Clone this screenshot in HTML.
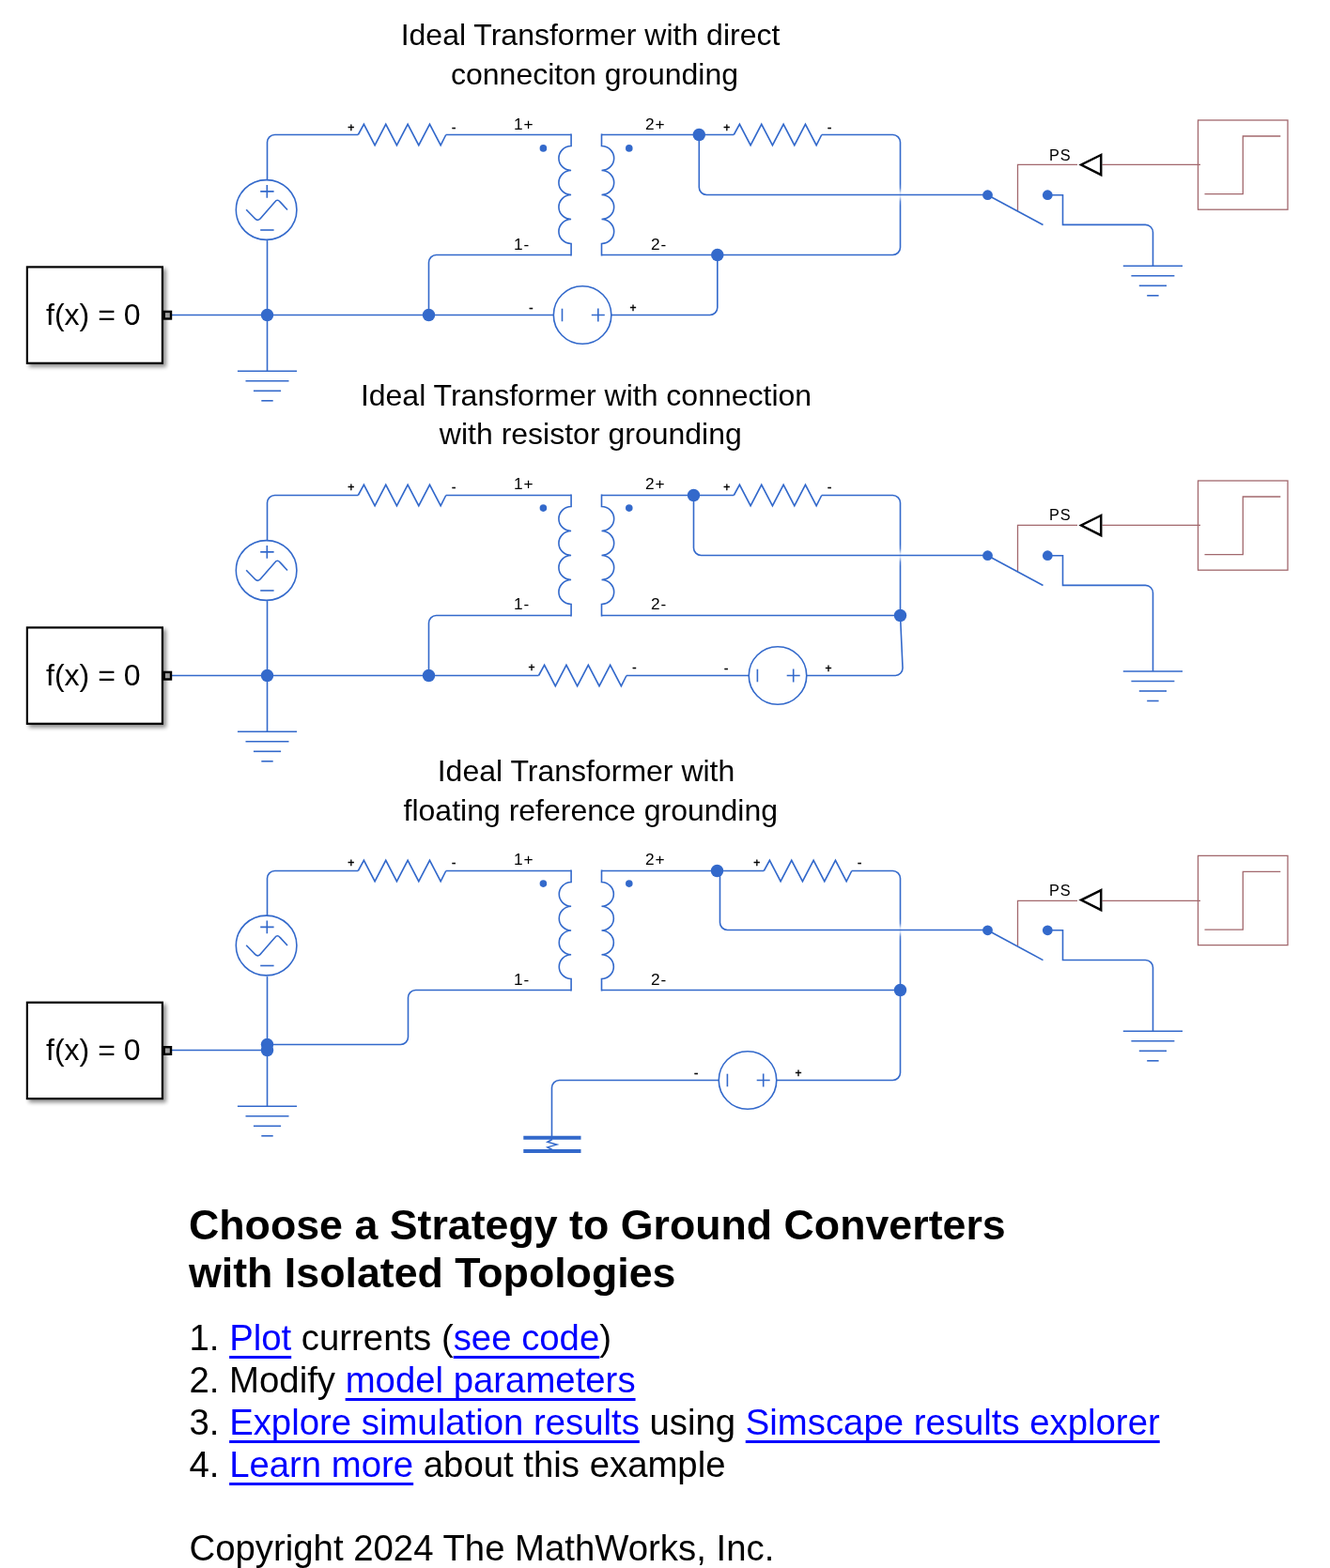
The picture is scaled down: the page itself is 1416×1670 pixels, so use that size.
<!DOCTYPE html>
<html lang="en">
<head>
<meta charset="utf-8">
<title>Choose a Strategy to Ground Converters with Isolated Topologies</title>
<style>
html,body{margin:0;padding:0;background:#fff}
body{width:1416px;height:1670px;position:relative;overflow:hidden;font-family:"Liberation Sans",sans-serif;color:#000}
svg{position:absolute;left:0;top:0;display:block}
svg text{font-family:"Liberation Sans",sans-serif}
svg,.doc{will-change:transform}
.doc{position:absolute;left:0;top:0;width:1416px;height:1670px}
.doc h1,.doc p,.doc li{position:absolute;margin:0;padding:0;white-space:nowrap;font-weight:normal}
.doc ol{list-style:none;margin:0;padding:0}
.doc h1{left:201px;font-size:44.72px;line-height:50px;font-weight:bold}
.doc li,.doc p{left:201.5px;font-size:38.33px;line-height:44px}
.doc a{color:#0000ff;text-decoration:underline;text-decoration-thickness:3.4px;text-underline-offset:6.3px;text-decoration-skip-ink:none}
</style>
</head>
<body>
<svg width="1416" height="1670" viewBox="0 0 1416 1670">
<defs>
<filter id="sh" x="-10%" y="-10%" width="130%" height="130%"><feGaussianBlur in="SourceAlpha" stdDeviation="2.1"/><feOffset dx="2.6" dy="2.6"/><feComponentTransfer><feFuncA type="linear" slope="0.45"/></feComponentTransfer></filter>
<linearGradient id="xg" x1="0" y1="0" x2="0" y2="1"><stop offset="0" stop-color="#fff" stop-opacity="0"/><stop offset="0.2" stop-color="#fff" stop-opacity="0.15"/><stop offset="0.42" stop-color="#fff" stop-opacity="0.85"/><stop offset="0.58" stop-color="#fff" stop-opacity="0.85"/><stop offset="0.8" stop-color="#fff" stop-opacity="0.15"/><stop offset="1" stop-color="#fff" stop-opacity="0"/></linearGradient>
</defs>
<text x="628.5" y="48.1" font-size="32" text-anchor="middle" font-weight="normal" fill="#000">Ideal Transformer with direct</text>
<text x="633" y="90.3" font-size="32" text-anchor="middle" font-weight="normal" fill="#000">conneciton grounding</text>
<path d="M284.5,191.5 L284.5,151.5 A8,8 0 0 1 292.5,143.5 L381.3,143.5" fill="none" stroke="#3369cb" stroke-width="1.6" />
<path d="M381.3,143.5 L387.4,132.3 L399.08,154.7 L410.76,132.3 L422.44,154.7 L434.12,132.3 L445.8,154.7 L457.48,132.3 L469.16,154.7 L474.8,143.5" fill="none" stroke="#3369cb" stroke-width="1.6" stroke-linejoin="miter" stroke-miterlimit="10"/>
<text x="373.8" y="139.9" font-size="12" text-anchor="middle" font-weight="normal" fill="#000" stroke="#000" stroke-width="0.45">+</text>
<text x="483.2" y="139.6" font-size="13" text-anchor="middle" font-weight="normal" fill="#000" stroke="#000" stroke-width="0.45">-</text>
<path d="M474.8,143.5 H608.1" fill="none" stroke="#3369cb" stroke-width="1.6" />
<ellipse cx="283.6" cy="223.5" rx="32.3" ry="31.9" fill="#fff" stroke="#3369cb" stroke-width="1.6"/>
<path d="M277.2,203.9 H291.6 M284.3,196.9 V210.8" fill="none" stroke="#3369cb" stroke-width="1.6" />
<path d="M277.2,245 H291.6" fill="none" stroke="#3369cb" stroke-width="1.6" />
<path d="M262.2,223.2 L270.7,232 Q274.5,236.8 278.1,231.8 L292.7,215 Q295.3,211.6 298.1,214.9 L306,223.5" fill="none" stroke="#3369cb" stroke-width="1.6" stroke-linejoin="round"/>
<path d="M284.5,256.1 V395.3" fill="none" stroke="#3369cb" stroke-width="1.6" />
<path d="M252.9,395.3 H316.1" fill="none" stroke="#3369cb" stroke-width="1.6" />
<path d="M261.5,405.8 H307.5" fill="none" stroke="#3369cb" stroke-width="1.6" />
<path d="M269.9,416.3 H299.1" fill="none" stroke="#3369cb" stroke-width="1.6" />
<path d="M278.3,426.8 H290.7" fill="none" stroke="#3369cb" stroke-width="1.6" />
<path d="M183,335.5 H589.6" fill="none" stroke="#3369cb" stroke-width="1.6" />
<path d="M608.1,271.5 L464.5,271.5 A8,8 0 0 0 456.5,279.5 L456.5,335.5" fill="none" stroke="#3369cb" stroke-width="1.6" />
<path d="M608.1,142.5 V155.5 A13.2,13 0 0 0 608.1,181.5 A13.2,13 0 0 0 608.1,207.5 A13.2,13 0 0 0 608.1,233.5 A13.2,13 0 0 0 608.1,259.5 V272.5" fill="none" stroke="#3369cb" stroke-width="1.6" stroke-linejoin="miter"/>
<path d="M640.5,142.5 V155.5 A13.2,13 0 0 1 640.5,181.5 A13.2,13 0 0 1 640.5,207.5 A13.2,13 0 0 1 640.5,233.5 A13.2,13 0 0 1 640.5,259.5 V272.5" fill="none" stroke="#3369cb" stroke-width="1.6" stroke-linejoin="miter"/>
<circle cx="578.4" cy="157.9" r="3.8" fill="#3369cb"/>
<circle cx="669.8" cy="157.9" r="3.8" fill="#3369cb"/>
<text x="547" y="137.8" font-size="17.3" text-anchor="start" font-weight="normal" fill="#000" letter-spacing="0.8">1+</text>
<text x="547" y="265.8" font-size="17.3" text-anchor="start" font-weight="normal" fill="#000" letter-spacing="0.8">1-</text>
<text x="687" y="137.8" font-size="17.3" text-anchor="start" font-weight="normal" fill="#000" letter-spacing="0.8">2+</text>
<text x="693" y="265.8" font-size="17.3" text-anchor="start" font-weight="normal" fill="#000" letter-spacing="0.8">2-</text>
<path d="M640.5,143.5 H781.3" fill="none" stroke="#3369cb" stroke-width="1.6" />
<path d="M781.3,143.5 L787.4,132.3 L799.08,154.7 L810.76,132.3 L822.44,154.7 L834.12,132.3 L845.8,154.7 L857.48,132.3 L869.16,154.7 L874.8,143.5" fill="none" stroke="#3369cb" stroke-width="1.6" stroke-linejoin="miter" stroke-miterlimit="10"/>
<text x="773.8" y="139.9" font-size="12" text-anchor="middle" font-weight="normal" fill="#000" stroke="#000" stroke-width="0.45">+</text>
<text x="883.2" y="139.6" font-size="13" text-anchor="middle" font-weight="normal" fill="#000" stroke="#000" stroke-width="0.45">-</text>
<path d="M874.8,143.5 L950.5,143.5 A8,8 0 0 1 958.5,151.5 L958.5,263.5 A8,8 0 0 1 950.5,271.5 L640.5,271.5" fill="none" stroke="#3369cb" stroke-width="1.6" />
<rect x="956" y="195.5" width="5" height="24" fill="url(#xg)"/>
<path d="M744.3,143.5 L744.3,199.5 A8,8 0 0 0 752.3,207.5 L1051.5,207.5" fill="none" stroke="#3369cb" stroke-width="1.6" />
<path d="M650.6,335.5 L755.8,335.5 A8,8 0 0 0 763.8,327.5 L763.8,271.5" fill="none" stroke="#3369cb" stroke-width="1.6" />
<circle cx="620.1" cy="335.5" r="30.75" fill="#fff" stroke="#3369cb" stroke-width="1.6"/>
<path d="M598.5,328.7 V342.3" fill="none" stroke="#3369cb" stroke-width="1.6" />
<path d="M629.8,335.5 H643.8 M636.8,328.5 V342.5" fill="none" stroke="#3369cb" stroke-width="1.6" />
<text x="565.3" y="332.3" font-size="13" text-anchor="middle" font-weight="normal" fill="#000" stroke="#000" stroke-width="0.45">-</text>
<text x="674" y="331.6" font-size="12" text-anchor="middle" font-weight="normal" fill="#000" stroke="#000" stroke-width="0.45">+</text>
<circle cx="284.5" cy="335.5" r="6.75" fill="#3369cb"/>
<circle cx="456.5" cy="335.5" r="6.75" fill="#3369cb"/>
<circle cx="744.3" cy="143.5" r="6.75" fill="#3369cb"/>
<circle cx="763.8" cy="271.5" r="6.75" fill="#3369cb"/>
<rect x="28.9" y="284.4" width="144" height="102.4" fill="#fff" stroke="#000" stroke-width="2.2" filter="url(#sh)"/>
<rect x="28.9" y="284.4" width="144" height="102.4" fill="#fff" stroke="#000" stroke-width="2.2"/>
<rect x="174.7" y="331.9" width="7.3" height="7.6" fill="#a0a0a0" stroke="#000" stroke-width="2.4"/>
<text x="99.3" y="346.1" font-size="32" text-anchor="middle" font-weight="normal" fill="#000">f(x) = 0</text>
<rect x="1275.5" y="128" width="95.5" height="95.2" fill="#fff" stroke="#a2686d" stroke-width="1.3"/>
<path d="M1282.5,206.7 H1323.3 V145 H1363.3" fill="none" stroke="#a2686d" stroke-width="1.3" />
<path d="M1173.5,175.3 H1278" fill="none" stroke="#a2686d" stroke-width="1.3" />
<path d="M1172.2,165 L1151.1,175.5 L1172.2,186.1 Z" fill="#fff" stroke="#000" stroke-width="2.5" stroke-linejoin="miter"/>
<path d="M1147,175.3 H1083.5 V224.4" fill="none" stroke="#a2686d" stroke-width="1.3" />
<text x="1117" y="171" font-size="16.3" text-anchor="start" font-weight="normal" fill="#000" letter-spacing="1">PS</text>
<path d="M1051.5,207.7 L1110.5,239.5" fill="none" stroke="#3369cb" stroke-width="1.6" />
<circle cx="1051.5" cy="207.7" r="5.4" fill="#3369cb"/>
<circle cx="1115.3" cy="207.7" r="5.4" fill="#3369cb"/>
<path d="M1115.3,207.7 L1131.5,207.7 L1131.5,239.4 L1219.5,239.4 A8,8 0 0 1 1227.5,247.4 L1227.5,283.3" fill="none" stroke="#3369cb" stroke-width="1.6" />
<path d="M1195.8,283.3 H1259" fill="none" stroke="#3369cb" stroke-width="1.6" />
<path d="M1204.4,293.8 H1250.4" fill="none" stroke="#3369cb" stroke-width="1.6" />
<path d="M1212.8,304.3 H1242" fill="none" stroke="#3369cb" stroke-width="1.6" />
<path d="M1221.2,314.8 H1233.6" fill="none" stroke="#3369cb" stroke-width="1.6" />
<text x="624" y="431.5" font-size="32" text-anchor="middle" font-weight="normal" fill="#000">Ideal Transformer with connection</text>
<text x="628.8" y="472.9" font-size="32" text-anchor="middle" font-weight="normal" fill="#000">with resistor grounding</text>
<path d="M284.5,575.5 L284.5,535.5 A8,8 0 0 1 292.5,527.5 L381.3,527.5" fill="none" stroke="#3369cb" stroke-width="1.6" />
<path d="M381.3,527.5 L387.4,516.3 L399.08,538.7 L410.76,516.3 L422.44,538.7 L434.12,516.3 L445.8,538.7 L457.48,516.3 L469.16,538.7 L474.8,527.5" fill="none" stroke="#3369cb" stroke-width="1.6" stroke-linejoin="miter" stroke-miterlimit="10"/>
<text x="373.8" y="522.9" font-size="12" text-anchor="middle" font-weight="normal" fill="#000" stroke="#000" stroke-width="0.45">+</text>
<text x="483.2" y="522.6" font-size="13" text-anchor="middle" font-weight="normal" fill="#000" stroke="#000" stroke-width="0.45">-</text>
<path d="M474.8,527.5 H608.1" fill="none" stroke="#3369cb" stroke-width="1.6" />
<ellipse cx="283.6" cy="607.5" rx="32.3" ry="31.9" fill="#fff" stroke="#3369cb" stroke-width="1.6"/>
<path d="M277.2,587.9 H291.6 M284.3,580.9 V594.8" fill="none" stroke="#3369cb" stroke-width="1.6" />
<path d="M277.2,629 H291.6" fill="none" stroke="#3369cb" stroke-width="1.6" />
<path d="M262.2,607.2 L270.7,616 Q274.5,620.8 278.1,615.8 L292.7,599 Q295.3,595.6 298.1,598.9 L306,607.5" fill="none" stroke="#3369cb" stroke-width="1.6" stroke-linejoin="round"/>
<path d="M284.5,640.1 V779.3" fill="none" stroke="#3369cb" stroke-width="1.6" />
<path d="M252.9,779.3 H316.1" fill="none" stroke="#3369cb" stroke-width="1.6" />
<path d="M261.5,789.8 H307.5" fill="none" stroke="#3369cb" stroke-width="1.6" />
<path d="M269.9,800.3 H299.1" fill="none" stroke="#3369cb" stroke-width="1.6" />
<path d="M278.3,810.8 H290.7" fill="none" stroke="#3369cb" stroke-width="1.6" />
<path d="M183,719.5 H573.5" fill="none" stroke="#3369cb" stroke-width="1.6" />
<path d="M573.5,719.5 L579.6,708.3 L591.28,730.7 L602.96,708.3 L614.64,730.7 L626.32,708.3 L638,730.7 L649.68,708.3 L661.36,730.7 L667,719.5" fill="none" stroke="#3369cb" stroke-width="1.6" stroke-linejoin="miter" stroke-miterlimit="10"/>
<text x="566" y="714.9" font-size="12" text-anchor="middle" font-weight="normal" fill="#000" stroke="#000" stroke-width="0.45">+</text>
<text x="675.4" y="714.6" font-size="13" text-anchor="middle" font-weight="normal" fill="#000" stroke="#000" stroke-width="0.45">-</text>
<path d="M667,719.5 H797.5" fill="none" stroke="#3369cb" stroke-width="1.6" />
<path d="M608.1,655.5 L464.5,655.5 A8,8 0 0 0 456.5,663.5 L456.5,719.5" fill="none" stroke="#3369cb" stroke-width="1.6" />
<path d="M608.1,526.5 V539.5 A13.2,13 0 0 0 608.1,565.5 A13.2,13 0 0 0 608.1,591.5 A13.2,13 0 0 0 608.1,617.5 A13.2,13 0 0 0 608.1,643.5 V656.5" fill="none" stroke="#3369cb" stroke-width="1.6" stroke-linejoin="miter"/>
<path d="M640.5,526.5 V539.5 A13.2,13 0 0 1 640.5,565.5 A13.2,13 0 0 1 640.5,591.5 A13.2,13 0 0 1 640.5,617.5 A13.2,13 0 0 1 640.5,643.5 V656.5" fill="none" stroke="#3369cb" stroke-width="1.6" stroke-linejoin="miter"/>
<circle cx="578.4" cy="541.1" r="3.8" fill="#3369cb"/>
<circle cx="669.8" cy="541.1" r="3.8" fill="#3369cb"/>
<text x="547" y="521.1" font-size="17.3" text-anchor="start" font-weight="normal" fill="#000" letter-spacing="0.8">1+</text>
<text x="547" y="649.1" font-size="17.3" text-anchor="start" font-weight="normal" fill="#000" letter-spacing="0.8">1-</text>
<text x="687" y="521.1" font-size="17.3" text-anchor="start" font-weight="normal" fill="#000" letter-spacing="0.8">2+</text>
<text x="693" y="649.1" font-size="17.3" text-anchor="start" font-weight="normal" fill="#000" letter-spacing="0.8">2-</text>
<path d="M640.5,527.5 H781.3" fill="none" stroke="#3369cb" stroke-width="1.6" />
<path d="M781.3,527.5 L787.4,516.3 L799.08,538.7 L810.76,516.3 L822.44,538.7 L834.12,516.3 L845.8,538.7 L857.48,516.3 L869.16,538.7 L874.8,527.5" fill="none" stroke="#3369cb" stroke-width="1.6" stroke-linejoin="miter" stroke-miterlimit="10"/>
<text x="773.8" y="522.9" font-size="12" text-anchor="middle" font-weight="normal" fill="#000" stroke="#000" stroke-width="0.45">+</text>
<text x="883.2" y="522.6" font-size="13" text-anchor="middle" font-weight="normal" fill="#000" stroke="#000" stroke-width="0.45">-</text>
<path d="M874.8,527.5 L950.5,527.5 A8,8 0 0 1 958.5,535.5 L958.5,655.5" fill="none" stroke="#3369cb" stroke-width="1.6" />
<path d="M640.5,655.5 H958.5" fill="none" stroke="#3369cb" stroke-width="1.6" />
<rect x="956" y="579.5" width="5" height="24" fill="url(#xg)"/>
<path d="M738.5,527.5 L738.5,583.5 A8,8 0 0 0 746.5,591.5 L1051.5,591.5" fill="none" stroke="#3369cb" stroke-width="1.6" />
<path d="M858.5,719.5 L953.4,719.5 A8,8 0 0 0 961.04,711.51 L958.5,655.5" fill="none" stroke="#3369cb" stroke-width="1.6" />
<circle cx="828" cy="719.5" r="30.75" fill="#fff" stroke="#3369cb" stroke-width="1.6"/>
<path d="M806.4,712.7 V726.3" fill="none" stroke="#3369cb" stroke-width="1.6" />
<path d="M837.7,719.5 H851.7 M844.7,712.5 V726.5" fill="none" stroke="#3369cb" stroke-width="1.6" />
<text x="773.2" y="716.3" font-size="13" text-anchor="middle" font-weight="normal" fill="#000" stroke="#000" stroke-width="0.45">-</text>
<text x="881.9" y="715.6" font-size="12" text-anchor="middle" font-weight="normal" fill="#000" stroke="#000" stroke-width="0.45">+</text>
<circle cx="284.5" cy="719.5" r="6.75" fill="#3369cb"/>
<circle cx="456.5" cy="719.5" r="6.75" fill="#3369cb"/>
<circle cx="738.5" cy="527.5" r="6.75" fill="#3369cb"/>
<circle cx="958.5" cy="655.5" r="6.75" fill="#3369cb"/>
<rect x="28.9" y="668.4" width="144" height="102.4" fill="#fff" stroke="#000" stroke-width="2.2" filter="url(#sh)"/>
<rect x="28.9" y="668.4" width="144" height="102.4" fill="#fff" stroke="#000" stroke-width="2.2"/>
<rect x="174.7" y="715.9" width="7.3" height="7.6" fill="#a0a0a0" stroke="#000" stroke-width="2.4"/>
<text x="99.3" y="730.1" font-size="32" text-anchor="middle" font-weight="normal" fill="#000">f(x) = 0</text>
<rect x="1275.5" y="512" width="95.5" height="95.2" fill="#fff" stroke="#a2686d" stroke-width="1.3"/>
<path d="M1282.5,590.7 H1323.3 V529 H1363.3" fill="none" stroke="#a2686d" stroke-width="1.3" />
<path d="M1173.5,559.3 H1278" fill="none" stroke="#a2686d" stroke-width="1.3" />
<path d="M1172.2,549 L1151.1,559.5 L1172.2,570.1 Z" fill="#fff" stroke="#000" stroke-width="2.5" stroke-linejoin="miter"/>
<path d="M1147,559.3 H1083.5 V608.4" fill="none" stroke="#a2686d" stroke-width="1.3" />
<text x="1117" y="553.8" font-size="16.3" text-anchor="start" font-weight="normal" fill="#000" letter-spacing="1">PS</text>
<path d="M1051.5,591.7 L1110.5,623.5" fill="none" stroke="#3369cb" stroke-width="1.6" />
<circle cx="1051.5" cy="591.7" r="5.4" fill="#3369cb"/>
<circle cx="1115.3" cy="591.7" r="5.4" fill="#3369cb"/>
<path d="M1115.3,591.7 L1131.5,591.7 L1131.5,623.4 L1219.5,623.4 A8,8 0 0 1 1227.5,631.4 L1227.5,715" fill="none" stroke="#3369cb" stroke-width="1.6" />
<path d="M1195.8,715 H1259" fill="none" stroke="#3369cb" stroke-width="1.6" />
<path d="M1204.4,725.5 H1250.4" fill="none" stroke="#3369cb" stroke-width="1.6" />
<path d="M1212.8,736 H1242" fill="none" stroke="#3369cb" stroke-width="1.6" />
<path d="M1221.2,746.5 H1233.6" fill="none" stroke="#3369cb" stroke-width="1.6" />
<text x="624" y="832.2" font-size="32" text-anchor="middle" font-weight="normal" fill="#000">Ideal Transformer with</text>
<text x="628.8" y="873.5" font-size="32" text-anchor="middle" font-weight="normal" fill="#000">floating reference grounding</text>
<path d="M284.5,975.5 L284.5,935.5 A8,8 0 0 1 292.5,927.5 L381.3,927.5" fill="none" stroke="#3369cb" stroke-width="1.6" />
<path d="M381.3,927.5 L387.4,916.3 L399.08,938.7 L410.76,916.3 L422.44,938.7 L434.12,916.3 L445.8,938.7 L457.48,916.3 L469.16,938.7 L474.8,927.5" fill="none" stroke="#3369cb" stroke-width="1.6" stroke-linejoin="miter" stroke-miterlimit="10"/>
<text x="373.8" y="922.9" font-size="12" text-anchor="middle" font-weight="normal" fill="#000" stroke="#000" stroke-width="0.45">+</text>
<text x="483.2" y="922.6" font-size="13" text-anchor="middle" font-weight="normal" fill="#000" stroke="#000" stroke-width="0.45">-</text>
<path d="M474.8,927.5 H608.1" fill="none" stroke="#3369cb" stroke-width="1.6" />
<ellipse cx="283.6" cy="1007" rx="32.3" ry="31.9" fill="#fff" stroke="#3369cb" stroke-width="1.6"/>
<path d="M277.2,987.4 H291.6 M284.3,980.4 V994.3" fill="none" stroke="#3369cb" stroke-width="1.6" />
<path d="M277.2,1028.5 H291.6" fill="none" stroke="#3369cb" stroke-width="1.6" />
<path d="M262.2,1006.7 L270.7,1015.5 Q274.5,1020.3 278.1,1015.3 L292.7,998.5 Q295.3,995.1 298.1,998.4 L306,1007" fill="none" stroke="#3369cb" stroke-width="1.6" stroke-linejoin="round"/>
<path d="M284.5,1040.1 V1178.3" fill="none" stroke="#3369cb" stroke-width="1.6" />
<path d="M252.9,1178.3 H316.1" fill="none" stroke="#3369cb" stroke-width="1.6" />
<path d="M261.5,1188.8 H307.5" fill="none" stroke="#3369cb" stroke-width="1.6" />
<path d="M269.9,1199.3 H299.1" fill="none" stroke="#3369cb" stroke-width="1.6" />
<path d="M278.3,1209.8 H290.7" fill="none" stroke="#3369cb" stroke-width="1.6" />
<path d="M183,1118.5 H284.5" fill="none" stroke="#3369cb" stroke-width="1.6" />
<path d="M284.5,1112.5 L426.5,1112.5 A8,8 0 0 0 434.5,1104.5 L434.5,1062.5 A8,8 0 0 1 442.5,1054.5 L608.1,1054.5" fill="none" stroke="#3369cb" stroke-width="1.6" />
<path d="M608.1,926.5 V939.5 A13.2,12.88 0 0 0 608.1,965.25 A13.2,12.88 0 0 0 608.1,991 A13.2,12.88 0 0 0 608.1,1016.75 A13.2,12.88 0 0 0 608.1,1042.5 V1055.5" fill="none" stroke="#3369cb" stroke-width="1.6" stroke-linejoin="miter"/>
<path d="M640.5,926.5 V939.5 A13.2,12.88 0 0 1 640.5,965.25 A13.2,12.88 0 0 1 640.5,991 A13.2,12.88 0 0 1 640.5,1016.75 A13.2,12.88 0 0 1 640.5,1042.5 V1055.5" fill="none" stroke="#3369cb" stroke-width="1.6" stroke-linejoin="miter"/>
<circle cx="578.4" cy="941.1" r="3.8" fill="#3369cb"/>
<circle cx="669.8" cy="941.1" r="3.8" fill="#3369cb"/>
<text x="547" y="921.1" font-size="17.3" text-anchor="start" font-weight="normal" fill="#000" letter-spacing="0.8">1+</text>
<text x="547" y="1049.1" font-size="17.3" text-anchor="start" font-weight="normal" fill="#000" letter-spacing="0.8">1-</text>
<text x="687" y="921.1" font-size="17.3" text-anchor="start" font-weight="normal" fill="#000" letter-spacing="0.8">2+</text>
<text x="693" y="1049.1" font-size="17.3" text-anchor="start" font-weight="normal" fill="#000" letter-spacing="0.8">2-</text>
<path d="M640.5,927.5 H813.3" fill="none" stroke="#3369cb" stroke-width="1.6" />
<path d="M813.3,927.5 L819.4,916.3 L831.08,938.7 L842.76,916.3 L854.44,938.7 L866.12,916.3 L877.8,938.7 L889.48,916.3 L901.16,938.7 L906.8,927.5" fill="none" stroke="#3369cb" stroke-width="1.6" stroke-linejoin="miter" stroke-miterlimit="10"/>
<text x="805.8" y="922.9" font-size="12" text-anchor="middle" font-weight="normal" fill="#000" stroke="#000" stroke-width="0.45">+</text>
<text x="915.2" y="922.6" font-size="13" text-anchor="middle" font-weight="normal" fill="#000" stroke="#000" stroke-width="0.45">-</text>
<path d="M906.8,927.5 L950.5,927.5 A8,8 0 0 1 958.5,935.5 L958.5,1142.5 A8,8 0 0 1 950.5,1150.5 L826.5,1150.5" fill="none" stroke="#3369cb" stroke-width="1.6" />
<path d="M640.5,1054.5 H958.5" fill="none" stroke="#3369cb" stroke-width="1.6" />
<rect x="956" y="978.5" width="5" height="24" fill="url(#xg)"/>
<path d="M766.5,927.5 L766.5,982.5 A8,8 0 0 0 774.5,990.5 L1051.5,990.5" fill="none" stroke="#3369cb" stroke-width="1.6" />
<path d="M765.5,1150.5 L595.5,1150.5 A8,8 0 0 0 587.5,1158.5 L587.5,1210" fill="none" stroke="#3369cb" stroke-width="1.6" />
<path d="M557.3,1211.8 H618.5 M557.3,1226 H618.5" fill="none" stroke="#3369cb" stroke-width="4" />
<path d="M588,1213.5 L582.9,1216.3 L592.8,1219.1 L582.9,1221.9 L588,1224.5" fill="none" stroke="#3369cb" stroke-width="1.5" />
<circle cx="796" cy="1150.5" r="30.75" fill="#fff" stroke="#3369cb" stroke-width="1.6"/>
<path d="M774.4,1143.7 V1157.3" fill="none" stroke="#3369cb" stroke-width="1.6" />
<path d="M805.7,1150.5 H819.7 M812.7,1143.5 V1157.5" fill="none" stroke="#3369cb" stroke-width="1.6" />
<text x="741.2" y="1147.3" font-size="13" text-anchor="middle" font-weight="normal" fill="#000" stroke="#000" stroke-width="0.45">-</text>
<text x="849.9" y="1146.6" font-size="12" text-anchor="middle" font-weight="normal" fill="#000" stroke="#000" stroke-width="0.45">+</text>
<circle cx="284.5" cy="1112.5" r="6.75" fill="#3369cb"/>
<circle cx="284.5" cy="1118.5" r="6.75" fill="#3369cb"/>
<circle cx="763.5" cy="927.5" r="6.75" fill="#3369cb"/>
<circle cx="958.5" cy="1054.5" r="6.75" fill="#3369cb"/>
<rect x="28.9" y="1067.7" width="144" height="102.4" fill="#fff" stroke="#000" stroke-width="2.2" filter="url(#sh)"/>
<rect x="28.9" y="1067.7" width="144" height="102.4" fill="#fff" stroke="#000" stroke-width="2.2"/>
<rect x="174.7" y="1115.2" width="7.3" height="7.6" fill="#a0a0a0" stroke="#000" stroke-width="2.4"/>
<text x="99.3" y="1129.4" font-size="32" text-anchor="middle" font-weight="normal" fill="#000">f(x) = 0</text>
<rect x="1275.5" y="911.4" width="95.5" height="95.2" fill="#fff" stroke="#a2686d" stroke-width="1.3"/>
<path d="M1282.5,990.1 H1323.3 V928.4 H1363.3" fill="none" stroke="#a2686d" stroke-width="1.3" />
<path d="M1173.5,959.3 H1278" fill="none" stroke="#a2686d" stroke-width="1.3" />
<path d="M1172.2,948.1 L1151.1,958.6 L1172.2,969.2 Z" fill="#fff" stroke="#000" stroke-width="2.5" stroke-linejoin="miter"/>
<path d="M1147,959.3 H1083.5 V1007.5" fill="none" stroke="#a2686d" stroke-width="1.3" />
<text x="1117" y="953.8" font-size="16.3" text-anchor="start" font-weight="normal" fill="#000" letter-spacing="1">PS</text>
<path d="M1051.5,990.8 L1110.5,1022.6" fill="none" stroke="#3369cb" stroke-width="1.6" />
<circle cx="1051.5" cy="990.8" r="5.4" fill="#3369cb"/>
<circle cx="1115.3" cy="990.8" r="5.4" fill="#3369cb"/>
<path d="M1115.3,990.8 L1131.5,990.8 L1131.5,1022.5 L1219.5,1022.5 A8,8 0 0 1 1227.5,1030.5 L1227.5,1098.3" fill="none" stroke="#3369cb" stroke-width="1.6" />
<path d="M1195.8,1098.3 H1259" fill="none" stroke="#3369cb" stroke-width="1.6" />
<path d="M1204.4,1108.8 H1250.4" fill="none" stroke="#3369cb" stroke-width="1.6" />
<path d="M1212.8,1119.3 H1242" fill="none" stroke="#3369cb" stroke-width="1.6" />
<path d="M1221.2,1129.8 H1233.6" fill="none" stroke="#3369cb" stroke-width="1.6" />
</svg>
<div class="doc">
<h1 style="top:1279.5px">Choose a Strategy to Ground Converters</h1>
<h1 style="top:1330.5px">with Isolated Topologies</h1>
<ol>
<li style="top:1403px">1. <a>Plot</a> currents (<a>see code</a>)</li>
<li style="top:1448px">2. Modify <a>model parameters</a></li>
<li style="top:1493px">3. <a>Explore simulation results</a> using <a>Simscape results explorer</a></li>
<li style="top:1538px">4. <a>Learn more</a> about this example</li>
</ol>
<p style="top:1627.4px">Copyright 2024 The MathWorks, Inc.</p>
</div>
</body>
</html>
